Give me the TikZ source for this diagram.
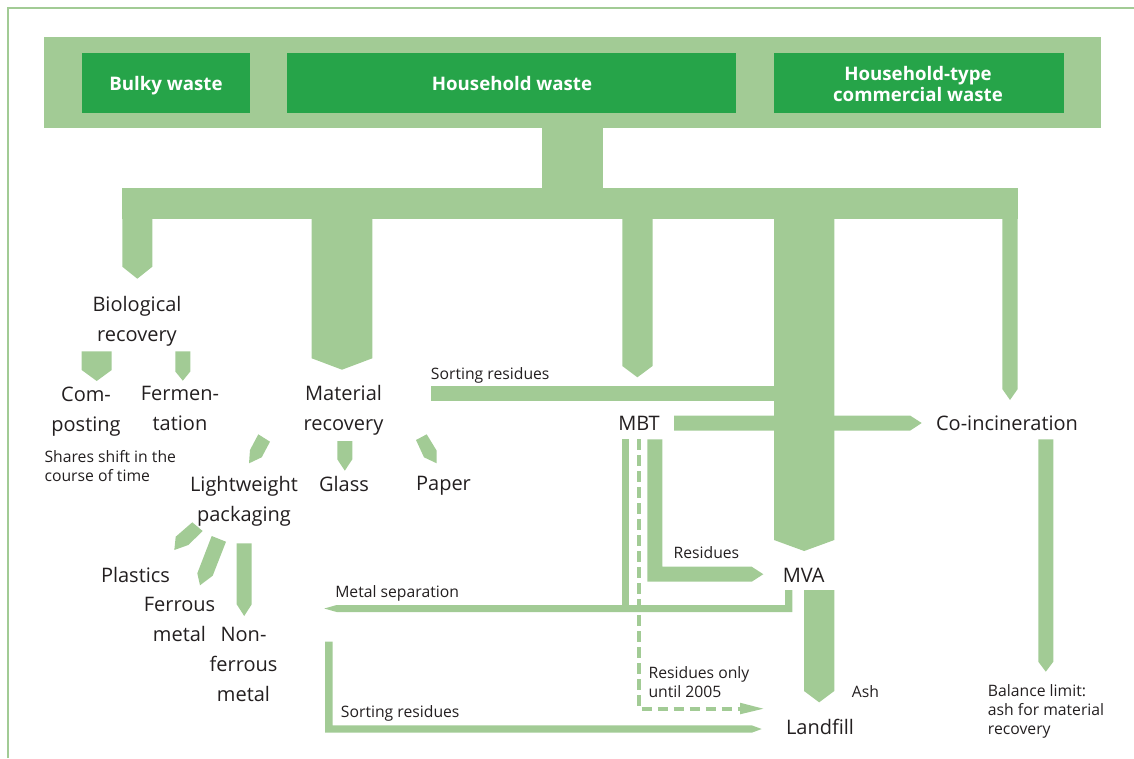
\documentclass[tikz,border=0pt]{standalone}
\usepackage{fontspec}
\setmainfont{Open Sans}
\definecolor{lg}{HTML}{A2CB95}
\definecolor{dg}{HTML}{26A449}
\definecolor{tx}{HTML}{231F20}
\newcommand\flowdown[5]{\fill[lg] (#1,#3) -- (#2,#3) -- (#2,#4) -- ({(#1+#2)/2},#5) -- (#1,#4) -- cycle;}
\tikzset{
  big/.style={font=\fontsize{15}{22.5}\selectfont, text=tx, align=center, inner sep=0pt, anchor=north},
  small/.style={font=\fontsize{11.8}{14}\selectfont, text=tx, align=left, inner sep=0pt, anchor=north west},
  head/.style={font=\bfseries\fontsize{14}{15.4}\selectfont, text=white, align=center, inner sep=0pt, anchor=north},
}
\begin{document}
\begin{tikzpicture}[x=0.75pt,y=-0.75pt]
\useasboundingbox (0,0) rectangle (1134,758);
% frame
\draw[lg, line width=1.6pt] (8.3,758) -- (8.3,8.3) -- (1134,8.3);
% top box
\fill[lg] (44,37) rectangle (1101,127.7);
\fill[dg] (82,53) rectangle (250,112.7);
\fill[dg] (287,53) rectangle (735.7,112.7);
\fill[dg] (774,53) rectangle (1064,112.7);
\node[head] (bulky) at (166,76.5) {Bulky waste};
\node[head] (house) at (512,76.5) {Household waste};
\node[head] (comm) at (918,66.5) {Household-type\\commercial waste};
% trunk and bar
\fill[lg] (542,127) rectangle (603,189);
\fill[lg] (122.3,188) rectangle (1018,219);
\flowdown{122.3}{152.3}{218}{266.7}{278.7}
\flowdown{311.7}{372.3}{218}{358.3}{369.7}
\flowdown{622.3}{652.5}{218}{366}{377.3}
\flowdown{774}{834.3}{218}{540}{551}
\flowdown{1002.3}{1017.7}{218}{389}{400}
% sorting residues top bar
\fill[lg] (430.7,385.7) rectangle (775,401);
% MBT -> co-incineration
\fill[lg] (674,415.5) -- (910,415.5) -- (921.7,423) -- (910,430.7) -- (674,430.7) -- cycle;
% biological sub-arrows
\flowdown{81.7}{111.7}{351.3}{370}{381}
\flowdown{175.3}{190.3}{351.3}{371.5}{380.7}
% material recovery sub-arrows
\fill[lg] (258.3,434.3) -- (270,441.7) -- (261.7,457.3) -- (249,463.3) -- (250,450) -- cycle;
\flowdown{337.3}{352.3}{441}{459.3}{470.7}
\fill[lg] (416,440) -- (426.7,434.3) -- (436.7,450.7) -- (436.7,463.3) -- (424,457.3) -- cycle;
% lightweight sub-arrows
\fill[lg] (192.3,522.3) -- (202.7,531) -- (188.3,545) -- (174.3,550) -- (175.7,536.7) -- cycle;
\fill[lg] (211.7,536) -- (226,541.7) -- (212.7,575.7) -- (200,585.3) -- (197.3,573.3) -- cycle;
\flowdown{236.7}{251.7}{543.3}{604.3}{616}
% co-incineration -> balance limit
\flowdown{1038.3}{1053.3}{439.3}{661.7}{671.7}
% MVA -> landfill
\flowdown{804}{834.3}{590}{691}{702.3}
% MBT residues -> MVA
\fill[lg] (647.3,439.3) -- (662.3,439.3) -- (662.3,566.7) -- (751.7,566.7) -- (763.3,574.2) -- (751.7,581.7) -- (647.3,581.7) -- cycle;
% metal separation
\fill[lg] (621.7,439.3) rectangle (629,606);
\fill[lg] (792.3,590) -- (792.3,612) -- (336.7,612) -- (324.3,608.5) -- (336.7,605) -- (785,605) -- (785,590) -- cycle;
% dashed residues only until 2005
\draw[lg, line width=3pt, dash pattern=on 8pt off 4pt] (638.9,439.3) -- (638.9,708.7) -- (742,708.7);
\fill[lg] (740,702.7) -- (763.3,708.7) -- (740,714.3) -- cycle;
% bottom sorting residues
\fill[lg] (325,641.7) -- (332.7,641.7) -- (332.7,725.3) -- (751.7,725.3) -- (761.7,729) -- (751.7,732.7) -- (325,732.7) -- cycle;
% texts
\node[big] (bio) at (137,296) {Biological\\recovery};
\node[big] (comp) at (86,386.3) {Com-\\posting};
\node[big] (ferm) at (180,386) {Fermen-\\tation};
\node[small] (shares) at (44.3,450.5) {Shares shift in the\\course of time};
\node[big] (mat) at (343.5,385) {Material\\recovery};
\node[big] (lwp) at (244,476) {Lightweight\\packaging};
\node[big] (glass) at (344,476) {Glass};
\node[big] (paper) at (443.5,476) {Paper};
\node[big] (plast) at (135.5,567) {Plastics};
\node[big] (ferr) at (179.5,597) {Ferrous\\metal};
\node[big] (nonf) at (243.5,627) {Non-\\ferrous\\metal};
\node[big] (mbt) at (639,416) {MBT};
\node[big] (coinc) at (1007,416) {Co-incineration};
\node[big] (mva) at (803.7,567.7) {MVA};
\node[big] (land) at (820,718.7) {Landfill};
\node[small] (sr1) at (430.7,367.1) {Sorting residues};
\node[small] (res) at (673.3,546.1) {Residues};
\node[small] (msep) at (335,585.5) {Metal separation};
\node[small] (res05) at (648.3,666.1) {Residues only\\until 2005};
\node[small] (sr2) at (340.7,705.5) {Sorting residues};
\node[small] (ash) at (851.7,685.5) {Ash};
\node[small] (bal) at (987.7,684.5) {Balance limit:\\ash for material\\recovery};
\end{tikzpicture}
\end{document}
